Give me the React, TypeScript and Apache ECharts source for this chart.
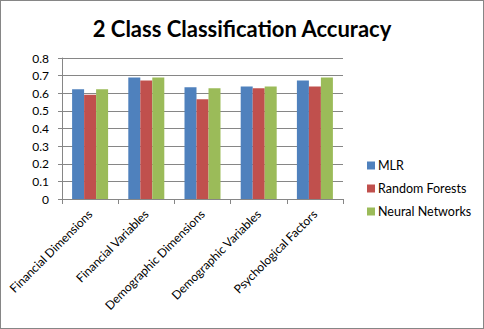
import React, { useEffect, useRef } from "react";
import * as echarts from "echarts";

const categories = [
  "Financial Dimensions",
  "Financial Variables",
  "Demographic Dimensions",
  "Demographic Variables",
  "Psychological Factors",
];
const mlr = [0.622, 0.69, 0.634, 0.639, 0.673];
const randomForests = [0.591, 0.673, 0.566, 0.628, 0.639];
const neuralNetworks = [0.622, 0.69, 0.628, 0.639, 0.69];
const seriesNames = ["MLR", "Random Forests", "Neural Networks"];
const colors = ["#4F81BD", "#C0504D", "#9BBB59"];

const FONT = "Lato, 'Open Sans', sans-serif";

export default function App() {
  const ref = useRef<HTMLDivElement>(null);
  useEffect(() => {
    if (!ref.current) return;
    const chart = echarts.init(ref.current, null, { renderer: "svg" });
    const data = [mlr, randomForests, neuralNetworks];
    chart.setOption({
      animation: false,
      backgroundColor: "#ffffff",
      title: {
        text: "2 Class Classification Accuracy",
        left: "center",
        top: 11,
        textStyle: { fontFamily: FONT, fontSize: 22, fontWeight: "bold", color: "#000" },
      },
      legend: {
        orient: "vertical",
        left: 361,
        top: 153,
        itemWidth: 8,
        itemHeight: 8,
        itemGap: 10,
        icon: "rect",
        data: seriesNames,
        textStyle: { fontFamily: FONT, fontSize: 12.5, color: "#000", padding: [0, 0, 0, -2] },
      },
      grid: { left: 61, right: 140, top: 57, bottom: 129 },
      xAxis: {
        type: "category",
        data: categories,
        axisLine: { lineStyle: { color: "#868686" } },
        axisTick: { show: true, length: 5, lineStyle: { color: "#868686" } },
        axisLabel: {
          rotate: 45,
          interval: 0,
          margin: 13,
          fontFamily: FONT,
          fontSize: 12,
          color: "#000",
        },
      },
      yAxis: {
        type: "value",
        min: 0,
        max: 0.8,
        interval: 0.1,
        axisLine: { show: true, lineStyle: { color: "#868686" } },
        axisTick: { show: true, length: 4, lineStyle: { color: "#868686" } },
        splitLine: { lineStyle: { color: "#868686" } },
        axisLabel: {
          fontFamily: FONT,
          fontSize: 12,
          color: "#000",
          margin: 13,
          formatter: (v: number) => (v === 0 ? "0" : String(Math.round(v * 10) / 10)),
        },
      },
      series: seriesNames.map((name, i) => ({
        name,
        type: "bar",
        data: data[i],
        barWidth: 12,
        barGap: "0%",
        itemStyle: { color: colors[i] },
      })),
    });
    return () => chart.dispose();
  }, []);
  return (
    <div
      style={{
        position: "fixed",
        left: 0,
        top: 0,
        width: 484,
        height: 329,
        boxSizing: "border-box",
        border: "1px solid #868686",
        background: "#fff",
      }}
    >
      <div ref={ref} style={{ width: 482, height: 327 }} />
    </div>
  );
}
